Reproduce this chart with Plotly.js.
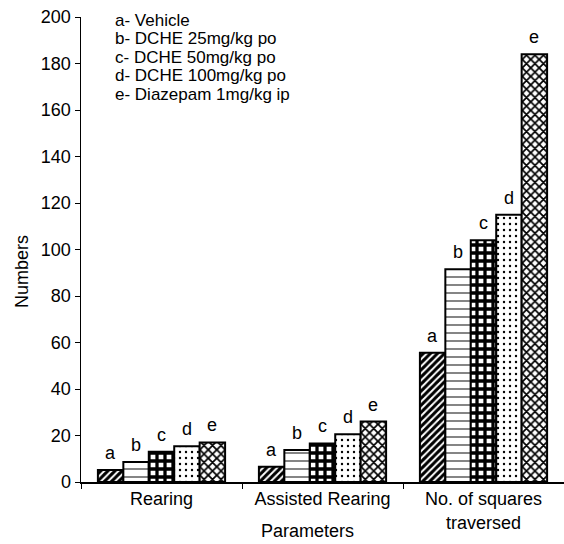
<!DOCTYPE html>
<html><head><meta charset="utf-8">
<script src="https://cdn.plot.ly/plotly-3.0.1.min.js"></script>
<style>html,body{margin:0;padding:0;background:#fff}#chart{width:564px;height:544px}</style>
</head><body><div id="chart"></div>
<script>
const categories = ["Rearing", "Assisted Rearing", "No. of squares<br>traversed"];
const seriesLetters = ["a", "b", "c", "d", "e"];
const seriesNames = ["Vehicle", "DCHE 25mg/kg po", "DCHE 50mg/kg po", "DCHE 100mg/kg po", "Diazepam 1mg/kg ip"];
const vehicle   = [5.2, 6.6, 55.6];
const dche25    = [8.6, 13.8, 91.5];
const dche50    = [13.0, 16.6, 104];
const dche100   = [15.4, 20.5, 115];
const diazepam  = [17.0, 26.0, 184];
const yTicks = [0, 20, 40, 60, 80, 100, 120, 140, 160, 180, 200];
const xTitle = "Parameters";
const yTitle = "Numbers";

const allValues = [vehicle, dche25, dche50, dche100, diazepam];
const patterns = [
  {shape: "/", fgcolor: "#000", bgcolor: "#fff", size: 5, solidity: 0.6},
  {shape: "-", fgcolor: "#000", bgcolor: "#fff", size: 8, solidity: 0.12},
  {shape: "+", fgcolor: "#000", bgcolor: "#fff", size: 8, solidity: 0.65},
  {shape: ".", fgcolor: "#000", bgcolor: "#fff", size: 6, solidity: 0.12},
  {shape: "x", fgcolor: "#000", bgcolor: "#fff", size: 6, solidity: 0.5}
];

const FONT = "Liberation Sans, Arial, sans-serif";
const bargap = 0.21;
const barW = (1 - bargap) / 5;

const traces = allValues.map((vals, j) => ({
  type: "bar",
  x: categories,
  y: vals,
  name: seriesLetters[j] + "- " + seriesNames[j],
  marker: {color: "#fff", line: {color: "#000", width: 2}, pattern: patterns[j]},
  hoverinfo: "skip"
}));

const L = 81, R = 0, T = 17, B = 62, W = 564, H = 544;
const pw = W - L - R, ph = H - T - B;
const px2x = x => (x - L) / pw;
const px2y = y => 1 - (y - T) / ph;

const annotations = [];
allValues.forEach((vals, j) => {
  vals.forEach((v, i) => {
    annotations.push({
      x: i + (j - 2) * barW, y: v, xref: "x", yref: "y",
      text: seriesLetters[j], showarrow: false, yanchor: "bottom", yshift: 5,
      font: {family: FONT, size: 18, color: "#000"}
    });
  });
});
seriesLetters.forEach((l, j) => {
  annotations.push({
    x: px2x(115), y: px2y(20 + j * 18.6), xref: "paper", yref: "paper",
    text: l + "- " + seriesNames[j], showarrow: false, xanchor: "left", yanchor: "middle",
    borderpad: 0, borderwidth: 0,
    font: {family: FONT, size: 17, color: "#000"}
  });
});
annotations.push({
  x: px2x(307), y: px2y(531), xref: "paper", yref: "paper", text: xTitle,
  showarrow: false, xanchor: "center", yanchor: "middle",
  font: {family: FONT, size: 18, color: "#000"}
});
annotations.push({
  x: px2x(22), y: px2y(272), xref: "paper", yref: "paper", text: yTitle, textangle: -90,
  showarrow: false, xanchor: "center", yanchor: "middle",
  font: {family: FONT, size: 18, color: "#000"}
});

const layout = {
  width: W, height: H,
  margin: {l: L, r: R, t: T, b: B},
  paper_bgcolor: "#fff", plot_bgcolor: "#fff",
  showlegend: false,
  barmode: "group", bargap: bargap, bargroupgap: 0,
  font: {family: FONT, size: 18, color: "#000"},
  xaxis: {
    type: "category", range: [-0.5, 2.5],
    showline: true, linecolor: "#000", linewidth: 1.5,
    ticks: "outside", tickson: "boundaries", ticklen: 5, tickcolor: "#000", tickwidth: 1,
    showgrid: false, zeroline: false,
    tickfont: {size: 18}
  },
  yaxis: {
    range: [0, 200], tickvals: yTicks, ticktext: yTicks.map(String),
    showline: true, linecolor: "#000", linewidth: 1.5,
    ticks: "outside", ticklen: 5, tickcolor: "#000", tickwidth: 1,
    showgrid: false, zeroline: false,
    tickfont: {size: 18}
  },
  annotations: annotations
};

Plotly.newPlot("chart", traces, layout, {displayModeBar: false, staticPlot: true});
</script>
</body></html>
